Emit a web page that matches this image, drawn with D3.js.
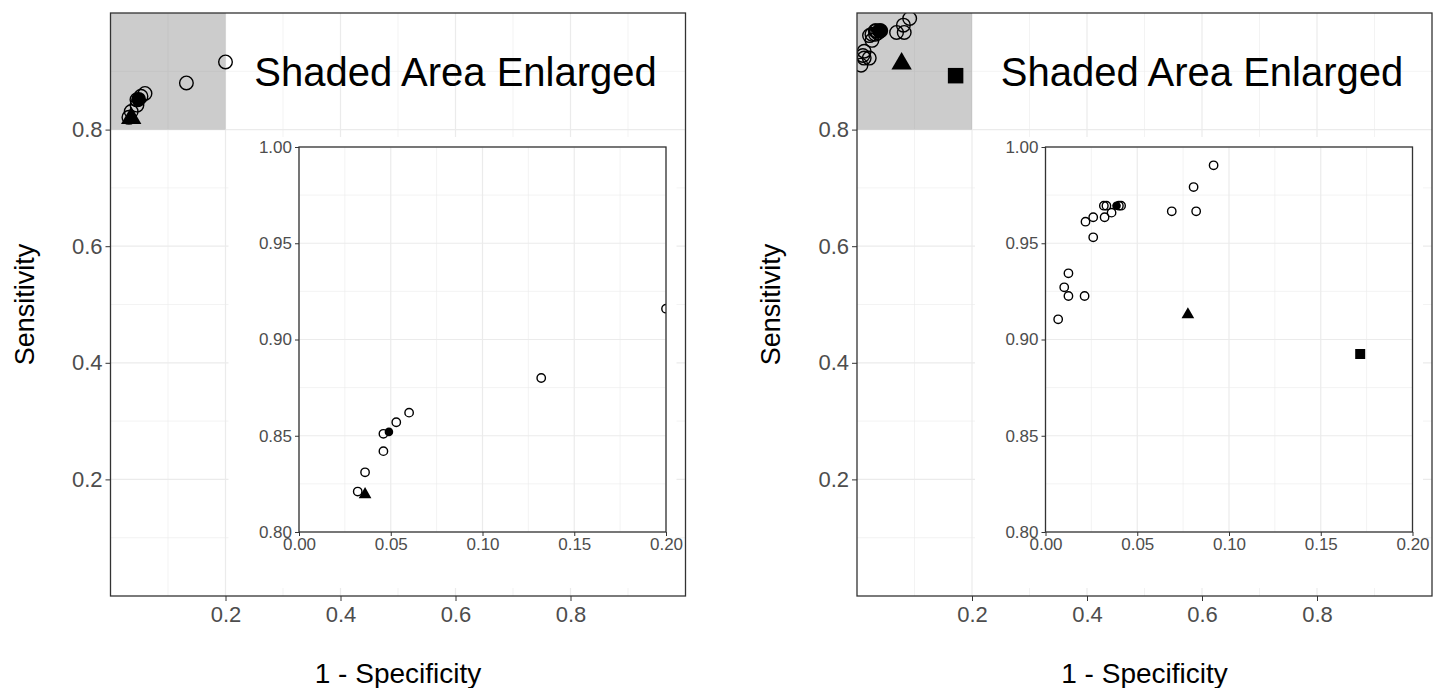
<!DOCTYPE html>
<meta charset="utf-8">
<script src="https://cdnjs.cloudflare.com/ajax/libs/d3/7.8.5/d3.min.js"></script>
<style>
body { margin: 0; background: #fff; }
svg { font-family: Arial, "Liberation Sans", sans-serif; }
.grid line { stroke: #ebebeb; }
.axis path { display: none; }
.axis line { stroke: #333; }
.axis text { fill: #4d4d4d; }
</style>
<body>
<script>

// left panel : individual studies (1 - specificity, sensitivity)
var leftStudyX = [0.200, 0.132, 0.060, 0.053, 0.046, 0.046, 0.036, 0.032];
var leftStudyY = [0.916, 0.880, 0.862, 0.857, 0.851, 0.842, 0.831, 0.821];
var leftPooled = [0.049, 0.852];
var leftTriangle = [0.036, 0.8195];

// right panel
var rightStudyX = [0.0916, 0.0807, 0.0688, 0.0821, 0.0318, 0.0332, 0.0400, 0.0412, 0.0360,
                   0.0322, 0.0260, 0.0218, 0.0260, 0.0125, 0.0102, 0.0125, 0.0213, 0.0069];
var rightStudyY = [0.9905, 0.9792, 0.9666, 0.9666, 0.9695, 0.9695, 0.9695, 0.9695, 0.9659,
                   0.9635, 0.9635, 0.9612, 0.9531, 0.9344, 0.9271, 0.9226, 0.9226, 0.9105];
var rightPooled = [0.0387, 0.9695];
var rightTriangle = [0.0776, 0.913];
var rightSquare = [0.1715, 0.8925];

var mainTicks = [0.2, 0.4, 0.6, 0.8];
var mainMinor = [0.1, 0.3, 0.5, 0.7, 0.9];
var insetXTicks = [0, 0.05, 0.10, 0.15, 0.20];
var insetXMinor = [0.025, 0.075, 0.125, 0.175];
var insetYTicks = [0.80, 0.85, 0.90, 0.95, 1.00];
var insetYMinor = [0.825, 0.875, 0.925, 0.975];
var zoomBox = {x0: 0, x1: 0.2, y0: 0.8, y1: 1.0};
var titleText = "Shaded Area Enlarged";
var xTitle = "1 - Specificity", yTitle = "Sensitivity";

var width = 1440, height = 688;

var svg = d3.select("body").append("svg")
    .attr("width", width)
    .attr("height", height);

function drawPanel(ox, id, studyX, studyY, pooled, tri, square) {
  var x = d3.scaleLinear().domain([0, 1]).range([ox, ox + 575]);
  var y = d3.scaleLinear().domain([0, 1]).range([596, 13]);

  var g = svg.append("g");

  svg.append("clipPath").attr("id", "clip" + id)
    .append("rect")
      .attr("x", x(0)).attr("y", y(1))
      .attr("width", x(1) - x(0)).attr("height", y(0) - y(1));

  var grid = g.append("g").attr("class", "grid");
  grid.selectAll(".vmin").data(mainMinor).enter().append("line")
      .attr("x1", x).attr("x2", x).attr("y1", y(0)).attr("y2", y(1))
      .attr("stroke-width", 0.6);
  grid.selectAll(".hmin").data(mainMinor).enter().append("line")
      .attr("y1", y).attr("y2", y).attr("x1", x(0)).attr("x2", x(1))
      .attr("stroke-width", 0.6);
  grid.selectAll(".vmaj").data(mainTicks).enter().append("line")
      .attr("x1", x).attr("x2", x).attr("y1", y(0)).attr("y2", y(1))
      .attr("stroke-width", 1.2);
  grid.selectAll(".hmaj").data(mainTicks).enter().append("line")
      .attr("y1", y).attr("y2", y).attr("x1", x(0)).attr("x2", x(1))
      .attr("stroke-width", 1.2);

  // shaded region
  g.append("rect")
      .attr("x", x(zoomBox.x0)).attr("y", y(zoomBox.y1))
      .attr("width", x(zoomBox.x1) - x(zoomBox.x0))
      .attr("height", y(zoomBox.y0) - y(zoomBox.y1))
      .attr("fill", "#7f7f7f").attr("fill-opacity", 0.4);

  g.append("text")
      .attr("x", x(0.6)).attr("y", y(0.9) + 15)
      .attr("text-anchor", "middle")
      .attr("font-size", "40px")
      .attr("fill", "#000")
      .text(titleText);

  var pts = g.append("g").attr("clip-path", "url(#clip" + id + ")");
  drawPoints(pts, x, y, studyX, studyY, pooled, tri, square, 6.8, 7.4, 180, 240);

  // inset background
  g.append("rect")
      .attr("x", ox + 118).attr("y", 137)
      .attr("width", 448).attr("height", 451)
      .attr("fill", "#fff");

  var ix = d3.scaleLinear().domain([0, 0.2]).range([ox + 188.5, ox + 555.5]);
  var iy = d3.scaleLinear().domain([0.8, 1.0]).range([532, 147]);

  svg.append("clipPath").attr("id", "iclip" + id)
    .append("rect")
      .attr("x", ix(0)).attr("y", iy(1))
      .attr("width", ix(0.2) - ix(0)).attr("height", iy(0.8) - iy(1));

  var igrid = g.append("g").attr("class", "grid");
  igrid.selectAll(".vmin").data(insetXMinor).enter().append("line")
      .attr("x1", ix).attr("x2", ix).attr("y1", iy(0.8)).attr("y2", iy(1))
      .attr("stroke-width", 0.6);
  igrid.selectAll(".hmin").data(insetYMinor).enter().append("line")
      .attr("y1", iy).attr("y2", iy).attr("x1", ix(0)).attr("x2", ix(0.2))
      .attr("stroke-width", 0.6);
  igrid.selectAll(".vmaj").data(insetXTicks).enter().append("line")
      .attr("x1", ix).attr("x2", ix).attr("y1", iy(0.8)).attr("y2", iy(1))
      .attr("stroke-width", 1.2);
  igrid.selectAll(".hmaj").data(insetYTicks).enter().append("line")
      .attr("y1", iy).attr("y2", iy).attr("x1", ix(0)).attr("x2", ix(0.2))
      .attr("stroke-width", 1.2);

  var ipts = g.append("g").attr("clip-path", "url(#iclip" + id + ")");
  drawPoints(ipts, ix, iy, studyX, studyY, pooled, tri, square, 4.2, 4.3, 70, 100);

  g.append("rect")
      .attr("x", ix(0)).attr("y", iy(1))
      .attr("width", ix(0.2) - ix(0)).attr("height", iy(0.8) - iy(1))
      .attr("fill", "none").attr("stroke", "#333").attr("stroke-width", 1.3);

  g.append("g").attr("class", "axis")
      .attr("transform", "translate(" + ix(0) + ",0)")
      .call(d3.axisLeft(iy).tickValues(insetYTicks).tickFormat(d3.format(".2f"))
        .tickSize(4).tickPadding(3))
      .selectAll("text").attr("font-size", "17px");
  g.append("g").attr("class", "axis")
      .attr("transform", "translate(0," + iy(0.8) + ")")
      .call(d3.axisBottom(ix).tickValues(insetXTicks).tickFormat(d3.format(".2f"))
        .tickSize(4).tickPadding(2))
      .selectAll("text").attr("font-size", "17px");

  // main frame and axes
  g.append("rect")
      .attr("x", x(0)).attr("y", y(1))
      .attr("width", x(1) - x(0)).attr("height", y(0) - y(1))
      .attr("fill", "none").attr("stroke", "#333").attr("stroke-width", 1.3);

  g.append("g").attr("class", "axis")
      .attr("transform", "translate(" + x(0) + ",0)")
      .call(d3.axisLeft(y).tickValues(mainTicks).tickFormat(d3.format(".1f"))
        .tickSize(5).tickPadding(3))
      .selectAll("text").attr("font-size", "22px");
  g.append("g").attr("class", "axis")
      .attr("transform", "translate(0," + y(0) + ")")
      .call(d3.axisBottom(x).tickValues(mainTicks).tickFormat(d3.format(".1f"))
        .tickSize(5).tickPadding(5))
      .selectAll("text").attr("font-size", "22px");

  g.append("text")
      .attr("x", (x(0) + x(1)) / 2).attr("y", 683)
      .attr("text-anchor", "middle")
      .attr("font-size", "28px")
      .text(xTitle);
  g.append("text")
      .attr("transform", "translate(" + (ox - 77) + "," + ((y(0) + y(1)) / 2) + ") rotate(-90)")
      .attr("text-anchor", "middle")
      .attr("font-size", "27px")
      .text(yTitle);
}

function drawPoints(g, x, y, sx, sy, pooled, tri, square, r, rp, triSize, sqSize) {
  g.selectAll("circle.study").data(sx).enter().append("circle")
      .attr("class", "study")
      .attr("cx", function(d) { return x(d); })
      .attr("cy", function(d, i) { return y(sy[i]); })
      .attr("r", r)
      .attr("fill", "none").attr("stroke", "#000").attr("stroke-width", 1.4);
  g.append("circle")
      .attr("cx", x(pooled[0])).attr("cy", y(pooled[1]))
      .attr("r", rp).attr("fill", "#000");
  g.append("path")
      .attr("d", d3.symbol().type(d3.symbolTriangle).size(triSize)())
      .attr("transform", "translate(" + x(tri[0]) + "," + y(tri[1]) + ")")
      .attr("fill", "#000");
  if (square) {
    g.append("path")
        .attr("d", d3.symbol().type(d3.symbolSquare).size(sqSize)())
        .attr("transform", "translate(" + x(square[0]) + "," + y(square[1]) + ")")
        .attr("fill", "#000");
  }
}

drawPanel(110.5, "a", leftStudyX, leftStudyY, leftPooled, leftTriangle, null);
drawPanel(857, "b", rightStudyX, rightStudyY, rightPooled, rightTriangle, rightSquare);

</script>
</body>
